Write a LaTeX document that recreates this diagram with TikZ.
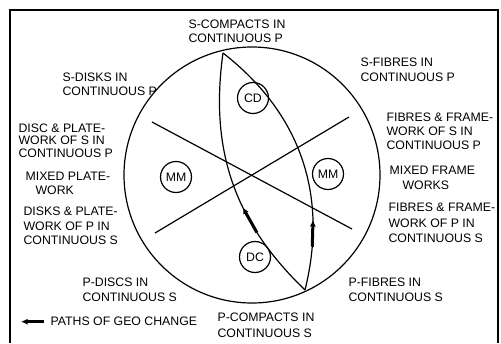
\documentclass[tikz,border=0pt]{standalone}
\usepackage{fontspec}
\setmainfont{Liberation Sans}
\usetikzlibrary{arrows.meta}

\tikzset{
    lbl/.style={anchor=north west, inner sep=0pt, align=left,
        font=\fontsize{12.3}{14.5}\selectfont},
    phase/.style={draw, circle, minimum size=31pt, inner sep=0pt,
        font=\fontsize{12.3}{14}\selectfont},
    geopath/.style={line width=3pt, -{Latex[length=6.5pt,width=6pt]}},
}

\begin{document}
\begin{tikzpicture}[x=1pt, y=-1pt, line width=1.2pt]

    \useasboundingbox (0,0) rectangle (501,343);

    % 外框
    \draw[line width=2.2pt] (10,343) -- (10,10) -- (498,10) -- (498,343);

    % --------------------------
    % 大圆与两条交叉线
    % --------------------------
    \coordinate (c) at (252,175);
    \draw (c) circle (128);

    \coordinate (ul) at (152,122);
    \coordinate (lr) at (352,229);
    \coordinate (ll) at (155,233);
    \coordinate (ur) at (349,117);
    \draw (ul) -- (lr);
    \draw (ll) -- (ur);

    % --------------------------
    % 透镜形路径
    % --------------------------
    \coordinate (top) at (223,53);
    \coordinate (bot) at (305,290);
    \draw (bot) to[bend left=27] coordinate[pos=0.275] (la) coordinate[pos=0.39] (lb) (top);
    \draw (bot) to[bend right=33] coordinate[pos=0.155] (ra) coordinate[pos=0.255] (rb) (top);

    % 变化方向
    \draw[geopath] (la) -- (lb);
    \draw[geopath] (ra) -- (rb);

    % 相区
    \node[phase] (cd)  at (253,98)  {CD};
    \node[phase] (mml) at (176,177) {MM};
    \node[phase] (mmr) at (328,174) {MM};
    \node[phase] (dc)  at (255,257) {DC};

    % --------------------------
    % 文字说明
    % --------------------------
    \node[lbl] (scomp)  at (188,19)  {S-COMPACTS IN\\CONTINUOUS P};
    \node[lbl, font=\fontsize{12.3}{13.5}\selectfont] (sdisk) at (62,72.4) {S-DISKS IN\\CONTINUOUS P};
    \node[lbl] (sfibre) at (360,57.4) {S-FIBRES IN\\CONTINUOUS P};
    \node[lbl, font=\fontsize{12.3}{12.5}\selectfont] (sdiscw) at (18,123.2)
        {DISC \& PLATE-\\WORK OF S IN\\CONTINUOUS P};
    \node[lbl, font=\fontsize{12.3}{14.2}\selectfont] (sfibrew) at (386,112.4)
        {FIBRES \& FRAME-\\WORK OF S IN\\CONTINUOUS P};
    \node[lbl, font=\fontsize{12.3}{14}\selectfont] (mixplate) at (25,171.4)
        {MIXED PLATE-\\\hspace*{10pt}WORK};
    \node[lbl, font=\fontsize{12.3}{14.3}\selectfont] (mixframe) at (389,165.7)
        {MIXED FRAME\\\hspace*{13pt}WORKS};
    \node[lbl] (pdiskw)  at (23,206.7)  {DISKS \& PLATE-\\WORK OF P IN\\CONTINUOUS S};
    \node[lbl, font=\fontsize{12.3}{15.3}\selectfont] (pfibrew) at (388,202.7)
        {FIBRES \& FRAME-\\WORK OF P IN\\CONTINUOUS S};
    \node[lbl, font=\fontsize{12.3}{14.8}\selectfont] (pdisc) at (82,277.7) {P-DISCS IN\\CONTINUOUS S};
    \node[lbl, font=\fontsize{12.3}{15}\selectfont] (pfibre) at (348,277.4) {P-FIBRES IN\\CONTINUOUS S};
    \node[lbl, font=\fontsize{12.3}{15.5}\selectfont] (pcomp) at (217,312.7) {P-COMPACTS IN\\CONTINUOUS S};

    % 图例
    \node[lbl, anchor=west] (legend) at (50,321.7) {PATHS OF GEO CHANGE};
    \coordinate (legtip) at (21,321.7);
    \draw[geopath] ([xshift=-6pt]legend.west) -- (legtip);

\end{tikzpicture}
\end{document}
